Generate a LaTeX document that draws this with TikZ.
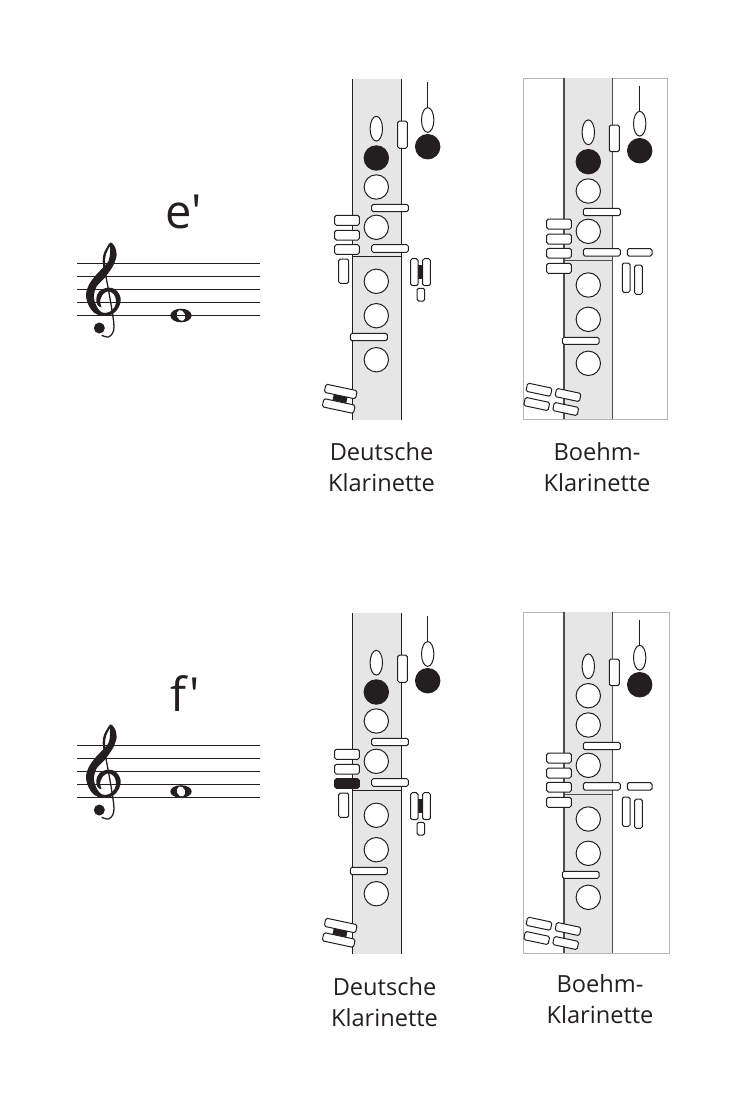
\documentclass[tikz,border=0pt]{standalone}
\usepackage{fontspec}
\newfontfamily\labelfont{Open Sans}
\definecolor{bodygrey}{HTML}{E6E6E6}
\definecolor{inkblack}{HTML}{231F20}
\definecolor{framegrey}{HTML}{B5B5B5}
\tikzset{
  staffline/.style={draw=inkblack, line width=1.6pt},
  openhole/.style={draw=inkblack, fill=white, line width=1pt},
  closedhole/.style={draw=inkblack, fill=inkblack, line width=1pt},
  padkey/.style={draw=inkblack, fill=white, line width=1pt, rounded corners=1.6pt},
  blackkey/.style={draw=inkblack, fill=inkblack, line width=1pt, rounded corners=1.6pt},
  chartlabel/.style={font=\labelfont\fontsize{23.6}{31}\selectfont, align=center, text=inkblack},
  notename/.style={font=\labelfont\fontsize{47}{50}\selectfont, text=inkblack, anchor=base west, inner sep=0pt}
}
% slanted key: centre x, centre y, width
\newcommand{\slantkey}[3]{\draw[padkey, shift={(#1,#2)}, rotate=-12] (-#3/2,-4.2) rectangle (#3/2,4.2);}
% staff with clef: y shift
\newcommand{\staffclef}[1]{
\begin{scope}[shift={(0,#1)}]
\foreach \ypos in {263.5,276.5,289.5,302.5,315.5} {
  \draw[staffline] (77,\ypos) -- (260,\ypos);
}
\begin{scope}[shift={(80,238)}, scale=1/3]
\fill[inkblack] plot[smooth cycle, tension=.55] coordinates {(92,13) (104,25) (110,50) (102,78) (90,98) (72,122) (50,145) (42,170) (44,190) (54,212) (68,224) (88,222) (104,207) (108,187) (101,168) (84,160) (68,170) (60,190) (64,208) (52,200) (49,180) (58,160) (82,149) (106,154) (122,180) (116,208) (98,228) (68,234) (42,224) (25,200) (18,170) (27,140) (47,112) (68,90) (86,68) (90,45) (90,28)};
\draw[inkblack, line width=1.3pt] plot[smooth, tension=.6] coordinates {(92,15) (74,45) (70,70) (75,100) (88,170) (98,230) (102,265) (98,285) (85,297) (65,292)};
\draw[inkblack, line width=2pt] plot[smooth, tension=.6] coordinates {(90,18) (76,45) (72,70) (74,90)};
\fill[inkblack] (58,270) circle (16.5);
\end{scope}
\end{scope}
}
% german system: y shift, style of third left key
\newcommand{\deutschechart}[2]{
\begin{scope}[shift={(0,#1)}]
\fill[bodygrey] (352,79) rectangle (401.5,419.5);
\draw[inkblack, line width=1pt] (352,79) -- (352,419.5);
\draw[inkblack, line width=1pt] (401.5,79) -- (401.5,419.5);
\draw[inkblack, line width=1pt] (352,256.7) -- (401.5,256.7);
% holes
\draw[openhole] (376.3,128.7) ellipse (6.2 and 12.4);
\draw[closedhole] (376.3,158) circle (12.2);
\foreach \ypos in {187,227.3,281.3,315.7,359.7} {
  \draw[openhole] (376.3,\ypos) circle (12.2);
}
% keys
\draw[padkey] (397.7,121) rectangle (407.3,148.3);
\draw[padkey] (371.7,204.3) rectangle (408.3,211.7);
\draw[padkey] (371.7,244.7) rectangle (408.3,252.3);
\draw[padkey] (350.3,333.3) rectangle (387.3,340.7);
\draw[padkey] (334.7,215.3) rectangle (359.3,225.3);
\draw[padkey] (334.7,230.3) rectangle (359.3,240);
\draw[#2] (334.7,244.7) rectangle (359.3,254.3);
\draw[padkey] (338.7,259) rectangle (348.7,283.3);
% thumb side
\draw[inkblack, line width=1pt] (427.7,82) -- (427.7,107.5);
\draw[openhole] (427.7,120) ellipse (6.2 and 12.4);
\draw[closedhole] (427.7,146.7) circle (12.2);
\fill[inkblack] (417,265) rectangle (424,279.3);
\draw[padkey] (410.7,258.7) rectangle (418,285.7);
\draw[padkey] (422.7,258.7) rectangle (430.3,285.7);
\draw[padkey] (417,288.3) rectangle (424.7,301);
% little finger keys
\fill[inkblack, shift={(340,398.7)}, rotate=-12] (-7,-3) rectangle (7,3);
\slantkey{340.7}{391.5}{32}
\slantkey{338.7}{406}{32}
\end{scope}
}
% boehm system: y shift, right frame edge, style of first hole
\newcommand{\boehmchart}[3]{
\begin{scope}[shift={(0,#1)}]
\draw[framegrey, line width=.9pt] (523.3,78.3) rectangle (#2,419.3);
\fill[bodygrey] (564,78.3) rectangle (612.7,419.3);
\draw[inkblack!80, line width=1.3pt] (564,78.3) -- (564,419.3);
\draw[inkblack!80, line width=1.3pt] (612.7,78.3) -- (612.7,419.3);
\draw[inkblack!80, line width=1pt] (564,260.7) -- (612.7,260.7);
% holes
\draw[openhole] (588.3,132.3) ellipse (6.2 and 12.4);
\draw[#3] (588.3,161.7) circle (12.2);
\foreach \ypos in {191,231.3,285,319.3,363.3} {
  \draw[openhole] (588.3,\ypos) circle (12.2);
}
% keys
\draw[padkey] (609.3,125) rectangle (619.3,151.7);
\draw[padkey] (583.3,208.3) rectangle (620.3,215.7);
\draw[padkey] (583.3,248.7) rectangle (620.3,256);
\draw[padkey] (627.3,248.7) rectangle (652,256);
\draw[padkey] (562.3,337.3) rectangle (599,344.3);
\draw[padkey] (546.7,219) rectangle (571.3,229);
\draw[padkey] (546.7,234) rectangle (571.3,244);
\draw[padkey] (546.7,248.3) rectangle (571.3,258);
\draw[padkey] (546.7,263.3) rectangle (571.3,273.3);
% thumb side
\draw[inkblack, line width=1pt] (639.7,85.7) -- (639.7,111.3);
\draw[openhole] (639.7,123.7) ellipse (6.2 and 12.4);
\draw[closedhole] (639.7,150.7) circle (12.2);
\draw[padkey] (622.3,263) rectangle (630,292.3);
\draw[padkey] (634.7,265) rectangle (642.3,294.3);
% little finger keys
\slantkey{539}{389.7}{25}
\slantkey{568}{395}{25}
\slantkey{536.7}{404}{25}
\slantkey{565.7}{409}{25}
\end{scope}
}
\begin{document}
\begin{tikzpicture}[x=1pt, y=-1pt]
\useasboundingbox (0,0) rectangle (750,1109);

% e' row
\node[notename] (nameE) at (165.5,228) {e\symbol{39}};
\fill[inkblack] (181,315.5) ellipse (10.7 and 6.8);
\fill[white, shift={(181,315.5)}, rotate=20] (0,0) ellipse (4 and 5.6);
\staffclef{0}
\deutschechart{0}{padkey}
\boehmchart{0}{667.7}{closedhole}
\node[chartlabel] (labelDeutschE) at (381.5,467) {Deutsche\\Klarinette};
\node[chartlabel] (labelBoehmE) at (597,467) {Boehm-\\Klarinette};

% f' row
\node[notename] (nameF) at (170.5,711) {f\symbol{39}};
\fill[inkblack] (181,791.5) ellipse (10.7 and 6.3);
\fill[white, shift={(181,791.5)}, rotate=20] (0,0) ellipse (4 and 5.2);
\staffclef{482}
\deutschechart{534}{blackkey}
\boehmchart{534}{669.5}{openhole}
\node[chartlabel] (labelDeutschF) at (384.5,1002) {Deutsche\\Klarinette};
\node[chartlabel] (labelBoehmF) at (600,999) {Boehm-\\Klarinette};
\end{tikzpicture}
\end{document}
